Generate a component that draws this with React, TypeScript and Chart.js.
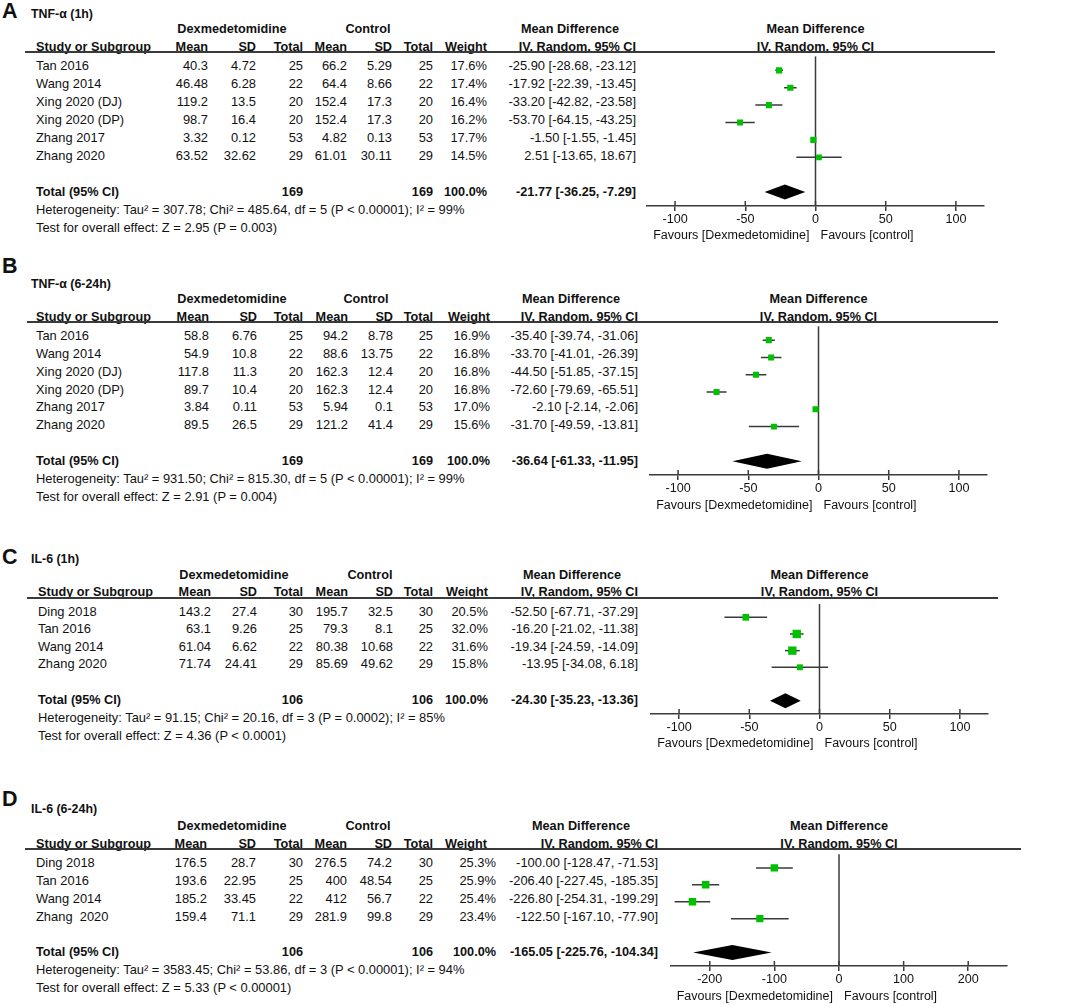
import React, { useEffect, useRef } from "react";
import { Chart, registerables } from "chart.js";

Chart.register(...registerables);

const FONT = "'Liberation Sans', Arial, Helvetica, sans-serif";
const TITLE_FONT = "'Liberation Sans Narrow', 'Liberation Sans', Arial, sans-serif";

// ---------------- Panel A: TNF-α (1h) ----------------
const A_title = "TNF-α (1h)";
const A_studies = ["Tan 2016", "Wang 2014", "Xing 2020 (DJ)", "Xing 2020 (DP)", "Zhang 2017", "Zhang 2020"];
const A_dexMean = [40.3, 46.48, 119.2, 98.7, 3.32, 63.52];
const A_dexSD = [4.72, 6.28, 13.5, 16.4, 0.12, 32.62];
const A_dexN = [25, 22, 20, 20, 53, 29];
const A_ctlMean = [66.2, 64.4, 152.4, 152.4, 4.82, 61.01];
const A_ctlSD = [5.29, 8.66, 17.3, 17.3, 0.13, 30.11];
const A_ctlN = [25, 22, 20, 20, 53, 29];
const A_weight = [17.6, 17.4, 16.4, 16.2, 17.7, 14.5];
const A_md = [-25.9, -17.92, -33.2, -53.7, -1.5, 2.51];
const A_lo = [-28.68, -22.39, -42.82, -64.15, -1.55, -13.65];
const A_hi = [-23.12, -13.45, -23.58, -43.25, -1.45, 18.67];
const A_total = [-21.77, -36.25, -7.29];
const A_totalN = [169, 169];
const A_ticks = [-100, -50, 0, 50, 100];
const A_range = [-120, 120];
const A_het = "Heterogeneity: Tau² = 307.78; Chi² = 485.64, df = 5 (P < 0.00001); I² = 99%";
const A_test = "Test for overall effect: Z = 2.95 (P = 0.003)";

// ---------------- Panel B: TNF-α (6-24h) ----------------
const B_title = "TNF-α (6-24h)";
const B_studies = ["Tan 2016", "Wang 2014", "Xing 2020 (DJ)", "Xing 2020 (DP)", "Zhang 2017", "Zhang 2020"];
const B_dexMean = [58.8, 54.9, 117.8, 89.7, 3.84, 89.5];
const B_dexSD = [6.76, 10.8, 11.3, 10.4, 0.11, 26.5];
const B_dexN = [25, 22, 20, 20, 53, 29];
const B_ctlMean = [94.2, 88.6, 162.3, 162.3, 5.94, 121.2];
const B_ctlSD = [8.78, 13.75, 12.4, 12.4, 0.1, 41.4];
const B_ctlN = [25, 22, 20, 20, 53, 29];
const B_weight = [16.9, 16.8, 16.8, 16.8, 17.0, 15.6];
const B_md = [-35.4, -33.7, -44.5, -72.6, -2.1, -31.7];
const B_lo = [-39.74, -41.01, -51.85, -79.69, -2.14, -49.59];
const B_hi = [-31.06, -26.39, -37.15, -65.51, -2.06, -13.81];
const B_total = [-36.64, -61.33, -11.95];
const B_totalN = [169, 169];
const B_ticks = [-100, -50, 0, 50, 100];
const B_range = [-120, 120];
const B_het = "Heterogeneity: Tau² = 931.50; Chi² = 815.30, df = 5 (P < 0.00001); I² = 99%";
const B_test = "Test for overall effect: Z = 2.91 (P = 0.004)";

// ---------------- Panel C: IL-6 (1h) ----------------
const C_title = "IL-6 (1h)";
const C_studies = ["Ding 2018", "Tan 2016", "Wang 2014", "Zhang 2020"];
const C_dexMean = [143.2, 63.1, 61.04, 71.74];
const C_dexSD = [27.4, 9.26, 6.62, 24.41];
const C_dexN = [30, 25, 22, 29];
const C_ctlMean = [195.7, 79.3, 80.38, 85.69];
const C_ctlSD = [32.5, 8.1, 10.68, 49.62];
const C_ctlN = [30, 25, 22, 29];
const C_weight = [20.5, 32.0, 31.6, 15.8];
const C_md = [-52.5, -16.2, -19.34, -13.95];
const C_lo = [-67.71, -21.02, -24.59, -34.08];
const C_hi = [-37.29, -11.38, -14.09, 6.18];
const C_total = [-24.3, -35.23, -13.36];
const C_totalN = [106, 106];
const C_ticks = [-100, -50, 0, 50, 100];
const C_range = [-120, 120];
const C_het = "Heterogeneity: Tau² = 91.15; Chi² = 20.16, df = 3 (P = 0.0002); I² = 85%";
const C_test = "Test for overall effect: Z = 4.36 (P < 0.0001)";

// ---------------- Panel D: IL-6 (6-24h) ----------------
const D_title = "IL-6 (6-24h)";
const D_studies = ["Ding 2018", "Tan 2016", "Wang 2014", "Zhang  2020"];
const D_dexMean = [176.5, 193.6, 185.2, 159.4];
const D_dexSD = [28.7, 22.95, 33.45, 71.1];
const D_dexN = [30, 25, 22, 29];
const D_ctlMean = [276.5, 400, 412, 281.9];
const D_ctlSD = [74.2, 48.54, 56.7, 99.8];
const D_ctlN = [30, 25, 22, 29];
const D_weight = [25.3, 25.9, 25.4, 23.4];
const D_md = [-100.0, -206.4, -226.8, -122.5];
const D_lo = [-128.47, -227.45, -254.31, -167.1];
const D_hi = [-71.53, -185.35, -199.29, -77.9];
const D_total = [-165.05, -225.76, -104.34];
const D_totalN = [106, 106];
const D_ticks = [-200, -100, 0, 100, 200];
const D_range = [-260, 260];
const D_het = "Heterogeneity: Tau² = 3583.45; Chi² = 53.86, df = 3 (P < 0.00001); I² = 94%";
const D_test = "Test for overall effect: Z = 5.33 (P < 0.00001)";

// ---------------- layout (positions only) ----------------
const LAYOUTS = {
  A: { letterY: 10.5, titleY: 14, lineY: 52, sp: 17.9, lineX: [25, 995], plotX: [647, 984], cols: [208, 256, 303, 347, 392, 433, 487, 636], weightHdr: 487, studyX: 36, dexC: 232, ctlC: 368, mdC: 570 },
  B: { letterY: 265.5, titleY: 284, lineY: 322, sp: 17.8, lineX: [27, 998], plotX: [650, 987], cols: [209, 257, 303, 348, 393, 433, 490, 638], weightHdr: 490, studyX: 36, dexC: 232, ctlC: 366, mdC: 571 },
  C: { letterY: 556.5, titleY: 559, lineY: 597.5, sp: 17.6, lineX: [27, 998], plotX: [651, 988], cols: [211, 257, 303, 348, 393, 433, 488, 638], weightHdr: 488, studyX: 38, dexC: 234, ctlC: 370, mdC: 572 },
  D: { letterY: 798.5, titleY: 809, lineY: 849, sp: 17.8, lineX: [25, 1021], plotX: [671, 1007], cols: [207, 256, 303, 347, 392, 433, 496, 658], weightHdr: 487, studyX: 36, dexC: 232, ctlC: 368, mdC: 581 },
};

const PANELS = [
  { key: "A", title: A_title, studies: A_studies, dexMean: A_dexMean, dexSD: A_dexSD, dexN: A_dexN, ctlMean: A_ctlMean, ctlSD: A_ctlSD, ctlN: A_ctlN, weight: A_weight, md: A_md, lo: A_lo, hi: A_hi, total: A_total, totalN: A_totalN, ticks: A_ticks, range: A_range, het: A_het, test: A_test, L: LAYOUTS.A },
  { key: "B", title: B_title, studies: B_studies, dexMean: B_dexMean, dexSD: B_dexSD, dexN: B_dexN, ctlMean: B_ctlMean, ctlSD: B_ctlSD, ctlN: B_ctlN, weight: B_weight, md: B_md, lo: B_lo, hi: B_hi, total: B_total, totalN: B_totalN, ticks: B_ticks, range: B_range, het: B_het, test: B_test, L: LAYOUTS.B },
  { key: "C", title: C_title, studies: C_studies, dexMean: C_dexMean, dexSD: C_dexSD, dexN: C_dexN, ctlMean: C_ctlMean, ctlSD: C_ctlSD, ctlN: C_ctlN, weight: C_weight, md: C_md, lo: C_lo, hi: C_hi, total: C_total, totalN: C_totalN, ticks: C_ticks, range: C_range, het: C_het, test: C_test, L: LAYOUTS.C },
  { key: "D", title: D_title, studies: D_studies, dexMean: D_dexMean, dexSD: D_dexSD, dexN: D_dexN, ctlMean: D_ctlMean, ctlSD: D_ctlSD, ctlN: D_ctlN, weight: D_weight, md: D_md, lo: D_lo, hi: D_hi, total: D_total, totalN: D_totalN, ticks: D_ticks, range: D_range, het: D_het, test: D_test, L: LAYOUTS.D },
];

const W = 1072;
const H = 1007;
const TXT = 12.9;
const BOLD_TXT = 12.7;
const INK = "#111";
const LINE = "#3a3a3a";
const GREEN = "#00c000";

const fmtCI = (m: number, l: number, h: number) => `${m.toFixed(2)} [${l.toFixed(2)}, ${h.toFixed(2)}]`;

function T({ x, y, align = "left", bold = false, size, family = FONT, children }: any) {
  const base: any = {
    position: "absolute",
    top: y - 8,
    height: 16,
    lineHeight: "16px",
    fontSize: size ?? (bold ? BOLD_TXT : TXT),
    fontFamily: family,
    fontWeight: bold ? "bold" : "normal",
    color: INK,
    whiteSpace: "pre",
  };
  if (align === "left") base.left = x;
  else if (align === "right") base.right = W - x;
  else {
    base.left = x - 300;
    base.width = 600;
    base.textAlign = "center";
  }
  return <div style={base}>{children}</div>;
}

const forestPlugin = {
  id: "forest",
  beforeDatasetsDraw(chart: any) {
    const { ctx, chartArea, scales } = chart;
    const x = scales.x;
    ctx.save();
    ctx.strokeStyle = LINE;
    ctx.lineWidth = 1.5;
    const x0 = x.getPixelForValue(0);
    ctx.beginPath();
    ctx.moveTo(x0, chartArea.top);
    ctx.lineTo(x0, chartArea.bottom);
    ctx.stroke();
    ctx.beginPath();
    for (const t of x.ticks) {
      const px = x.getPixelForValue(t.value);
      ctx.moveTo(px, chartArea.bottom);
      ctx.lineTo(px, chartArea.bottom - 5);
    }
    ctx.stroke();
    ctx.restore();
  },
  afterDatasetsDraw(chart: any, _args: any, opts: any) {
    const { ctx, scales } = chart;
    const [m, l, h] = opts.total;
    const yc = scales.y.getPixelForValue(opts.totalIdx);
    const xm = scales.x.getPixelForValue(m);
    const xl = scales.x.getPixelForValue(l);
    const xh = scales.x.getPixelForValue(h);
    ctx.save();
    ctx.fillStyle = "#000";
    ctx.beginPath();
    ctx.moveTo(xl, yc);
    ctx.lineTo(xm, yc - 7.5);
    ctx.lineTo(xh, yc);
    ctx.lineTo(xm, yc + 7.5);
    ctx.closePath();
    ctx.fill();
    ctx.restore();
  },
};

const PAD_L = 12;
const PAD_R = 12;
const AXIS_H = 30;

function ForestChart({ p }: any) {
  const ref = useRef<HTMLCanvasElement>(null);
  const L = p.L;
  const totalIdx = p.studies.length + 1;
  const areaW = L.plotX[1] - L.plotX[0];
  const areaH = (totalIdx + 1.6) * L.sp;
  const cw = Math.round(areaW + PAD_L + PAD_R);
  const ch = Math.round(areaH + AXIS_H);

  useEffect(() => {
    const squares = {
      data: p.md.map((v: number, i: number) => ({ x: v, y: i })),
      pointStyle: "rect",
      pointRadius: p.weight.map((w: number) => Math.sqrt(w) * 1.05),
      backgroundColor: GREEN,
      borderColor: GREEN,
      borderWidth: 0,
      showLine: false,
    };
    const lines = p.md.map((_: number, i: number) => ({
      data: [
        { x: p.lo[i], y: i },
        { x: p.hi[i], y: i },
      ],
      showLine: true,
      borderColor: LINE,
      borderWidth: 1.5,
      pointRadius: 0,
    }));
    const chart = new Chart(ref.current as HTMLCanvasElement, {
      type: "scatter",
      data: { datasets: [squares, ...lines] as any },
      options: {
        responsive: false,
        animation: false,
        events: [],
        devicePixelRatio: 1,
        layout: { padding: { left: PAD_L, right: PAD_R, top: 0, bottom: 0 } },
        plugins: {
          legend: { display: false },
          tooltip: { enabled: false },
          forest: { total: p.total, totalIdx },
        } as any,
        scales: {
          x: {
            type: "linear",
            min: p.range[0],
            max: p.range[1],
            afterBuildTicks: (s: any) => {
              s.ticks = p.ticks.map((v: number) => ({ value: v }));
            },
            afterFit: (s: any) => {
              s.height = AXIS_H;
            },
            grid: { display: true, drawOnChartArea: false, drawTicks: true, tickLength: 5, tickColor: LINE, lineWidth: 1.5 },
            border: { display: true, color: LINE, width: 1.5 },
            ticks: { font: { family: FONT, size: 12.6 }, color: INK, padding: 1, maxRotation: 0, autoSkip: false },
          },
          y: { type: "linear", display: false, reverse: true, min: -0.8, max: totalIdx + 0.8 },
        },
      } as any,
      plugins: [forestPlugin],
    });
    return () => chart.destroy();
  }, []);

  return (
    <canvas
      ref={ref}
      width={cw}
      height={ch}
      style={{ position: "absolute", left: L.plotX[0] - PAD_L, top: L.lineY, width: cw, height: ch }}
    />
  );
}

function Panel({ p }: any) {
  const L = p.L;
  const rowY = (i: number) => L.lineY + (i + 0.8) * L.sp;
  const totalIdx = p.studies.length + 1;
  const ty = rowY(totalIdx);
  const axisY = L.lineY + (totalIdx + 1.6) * L.sp;
  const h1 = L.lineY - 23;
  const h2 = L.lineY - 5.5;
  const c = L.cols;
  const zeroX = L.plotX[0] + ((0 - p.range[0]) / (p.range[1] - p.range[0])) * (L.plotX[1] - L.plotX[0]);
  return (
    <>
      <T x={2} y={L.letterY} bold size={21.5}>{p.key}</T>
      <T x={31} y={L.titleY} bold size={12.4} family={TITLE_FONT}>{p.title}</T>
      <T x={L.dexC} y={h1} align="center" bold>Dexmedetomidine</T>
      <T x={L.ctlC} y={h1} align="center" bold>Control</T>
      <T x={L.mdC} y={h1} align="center" bold>Mean Difference</T>
      <T x={zeroX} y={h1} align="center" bold>Mean Difference</T>
      <T x={L.studyX} y={h2} bold>Study or Subgroup</T>
      <T x={c[0]} y={h2} align="right" bold>Mean</T>
      <T x={c[1]} y={h2} align="right" bold>SD</T>
      <T x={c[2]} y={h2} align="right" bold>Total</T>
      <T x={c[3]} y={h2} align="right" bold>Mean</T>
      <T x={c[4]} y={h2} align="right" bold>SD</T>
      <T x={c[5]} y={h2} align="right" bold>Total</T>
      <T x={L.weightHdr} y={h2} align="right" bold>Weight</T>
      <T x={c[7]} y={h2} align="right" bold>IV, Random, 95% CI</T>
      <T x={zeroX} y={h2} align="center" bold>IV, Random, 95% CI</T>
      <div
        style={{
          position: "absolute",
          left: L.lineX[0],
          width: L.lineX[1] - L.lineX[0],
          top: L.lineY - 1,
          height: 2,
          background: LINE,
        }}
      />
      {p.studies.map((s: string, i: number) => (
        <React.Fragment key={s + i}>
          <T x={L.studyX} y={rowY(i)}>{s}</T>
          <T x={c[0]} y={rowY(i)} align="right">{String(p.dexMean[i])}</T>
          <T x={c[1]} y={rowY(i)} align="right">{String(p.dexSD[i])}</T>
          <T x={c[2]} y={rowY(i)} align="right">{String(p.dexN[i])}</T>
          <T x={c[3]} y={rowY(i)} align="right">{String(p.ctlMean[i])}</T>
          <T x={c[4]} y={rowY(i)} align="right">{String(p.ctlSD[i])}</T>
          <T x={c[5]} y={rowY(i)} align="right">{String(p.ctlN[i])}</T>
          <T x={c[6]} y={rowY(i)} align="right">{p.weight[i].toFixed(1) + "%"}</T>
          <T x={c[7]} y={rowY(i)} align="right">{fmtCI(p.md[i], p.lo[i], p.hi[i])}</T>
        </React.Fragment>
      ))}
      <T x={L.studyX} y={ty} bold>Total (95% CI)</T>
      <T x={c[2]} y={ty} align="right" bold>{String(p.totalN[0])}</T>
      <T x={c[5]} y={ty} align="right" bold>{String(p.totalN[1])}</T>
      <T x={c[6]} y={ty} align="right" bold>100.0%</T>
      <T x={c[7]} y={ty} align="right" bold>{fmtCI(p.total[0], p.total[1], p.total[2])}</T>
      <T x={L.studyX} y={ty + 18}>{p.het}</T>
      <T x={L.studyX} y={ty + 36}>{p.test}</T>
      <ForestChart p={p} />
      <T x={zeroX - 6} y={axisY + 29.5} align="right" size={12.5}>Favours [Dexmedetomidine]</T>
      <T x={zeroX + 5} y={axisY + 29.5} size={12.5}>Favours [control]</T>
    </>
  );
}

export default function App() {
  return (
    <div
      style={{
        position: "absolute",
        left: 0,
        top: 0,
        width: W,
        height: H,
        background: "#fff",
        overflow: "hidden",
        fontFamily: FONT,
      }}
    >
      {PANELS.map((p) => (
        <Panel key={p.key} p={p} />
      ))}
    </div>
  );
}
